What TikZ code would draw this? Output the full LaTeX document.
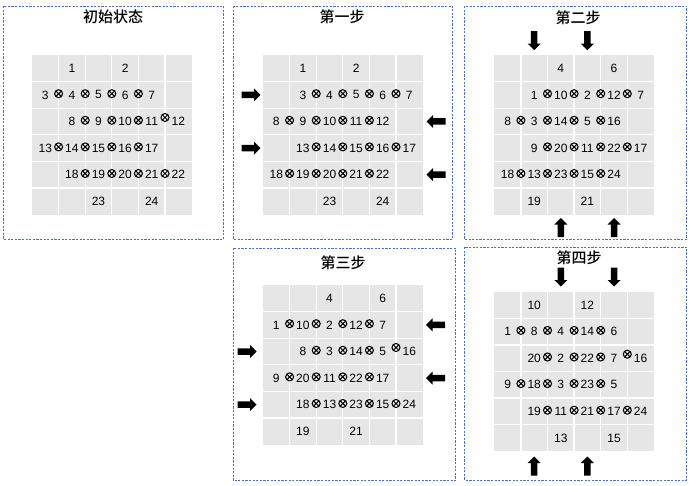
\documentclass[tikz,border=0pt]{standalone}
\usepackage{fontspec}
\setmainfont{Liberation Sans}
\newfontfamily\cjk{Noto Sans CJK SC}[BoldFont={Noto Sans CJK SC Medium}]
\definecolor{cellgray}{RGB}{231,230,230}
\definecolor{boxblue}{RGB}{68,114,196}
\newcommand\cellsz{26.6}
\newcommand\gridat{%
  \fill[cellgray] (0,0) rectangle (159.6,159.6);
  \foreach \k in {1,...,5} {
    \draw[white, line width=1.3pt] ({\k*\cellsz},0) -- ({\k*\cellsz},159.6);
    \draw[white, line width=1.3pt] (0,{\k*\cellsz}) -- (159.6,{\k*\cellsz});
  }}
\newcommand\chain[5]{%
  \foreach \v [count=\i from 0] in {#4} {
    \node[num] (#1r#2n\i) at ({(#3+\i+0.5)*\cellsz},{(#2+0.5)*\cellsz}) {\v};
    \ifnum\i>0
      \ifnum\i=#5 \def\dyy{-4}\else\def\dyy{-1.2}\fi
      \node[ox] (#1r#2x\i) at ({(#3+\i)*\cellsz},{(#2+0.5)*\cellsz+\dyy}) {};
    \fi
  }}
\newcommand\single[4]{% prefix, row, col, text
  \node[num] (#1s#2c#3) at ({(#3+0.5)*\cellsz},{(#2+0.5)*\cellsz}) {#4};}
\tikzset{
  panel/.style={draw=boxblue, line width=0.9pt, dash pattern=on 2.2pt off 1.4pt},
  num/.style={font=\fontsize{12}{12}\selectfont, inner sep=0pt},
  ox/.style={circle, draw, line width=1.05pt, minimum size=8pt, inner sep=0pt,
    path picture={\draw[line width=1.05pt] (path picture bounding box.north west) -- (path picture bounding box.south east)
      (path picture bounding box.north east) -- (path picture bounding box.south west);}},
  ttl/.style={font=\cjk\bfseries\fontsize{15}{16}\selectfont, inner sep=0pt},
  arrR/.pic={\fill (-9.5,-3.25) -- (3,-3.25) -- (3,-6.5) -- (9.5,0) -- (3,6.5) -- (3,3.25) -- (-9.5,3.25) -- cycle;},
  arrL/.pic={\fill (9.5,-3.25) -- (-3,-3.25) -- (-3,-6.5) -- (-9.5,0) -- (-3,6.5) -- (-3,3.25) -- (9.5,3.25) -- cycle;},
  arrD/.pic={\fill (-3.25,-9.5) -- (-3.25,3) -- (-6.5,3) -- (0,9.5) -- (6.5,3) -- (3.25,3) -- (3.25,-9.5) -- cycle;},
  arrU/.pic={\fill (-3.25,9.5) -- (-3.25,-3) -- (-6.5,-3) -- (0,-9.5) -- (6.5,-3) -- (3.25,-3) -- (3.25,9.5) -- cycle;},
}
\begin{document}
\begin{tikzpicture}[x=1pt,y=-1pt]
\useasboundingbox (0,0) rectangle (692,486);
% panel boxes
\draw[panel] (3,6) rectangle (223.5,239);
\draw[panel] (233,6) rectangle (452.7,239);
\draw[panel] (464,6) rectangle (686.7,239);
\draw[panel] (233.3,248) rectangle (455.7,480.7);
\draw[panel] (464.7,247) rectangle (686.7,480);
% titles
\node[ttl] (t1) at (113,17) {初始状态};
\node[ttl] (t2) at (342,17) {第一步};
\node[ttl] (t3) at (578,18) {第二步};
\node[ttl] (t4) at (343,263) {第三步};
\node[ttl] (t5) at (579,258) {第四步};
% panel 1
\begin{scope}[shift={(32,55)}]
  \gridat
  \single{A}{0}{1}{1} \single{A}{0}{3}{2}
  \chain{A}{1}{0}{3,4,5,6,7}{9}
  \chain{A}{2}{1}{8,9,10,11,12}{4}
  \chain{A}{3}{0}{13,14,15,16,17}{9}
  \chain{A}{4}{1}{18,19,20,21,22}{9}
  \single{A}{5}{2}{23} \single{A}{5}{4}{24}
\end{scope}
% panel 2
\begin{scope}[shift={(263,55)}]
  \gridat
  \single{B}{0}{1}{1} \single{B}{0}{3}{2}
  \chain{B}{1}{1}{3,4,5,6,7}{9}
  \chain{B}{2}{0}{8,9,10,11,12}{9}
  \chain{B}{3}{1}{13,14,15,16,17}{9}
  \chain{B}{4}{0}{18,19,20,21,22}{9}
  \single{B}{5}{2}{23} \single{B}{5}{4}{24}
  \pic at (-12,39.9) {arrR};
  \pic at (-12,93.1) {arrR};
  \pic at (173,66.5) {arrL};
  \pic at (173,119.7) {arrL};
\end{scope}
% panel 3
\begin{scope}[shift={(494.3,55)}]
  \gridat
  \single{C}{0}{2}{4} \single{C}{0}{4}{6}
  \chain{C}{1}{1}{1,10,2,12,7}{9}
  \chain{C}{2}{0}{8,3,14,5,16}{9}
  \chain{C}{3}{1}{9,20,11,22,17}{9}
  \chain{C}{4}{0}{18,13,23,15,24}{9}
  \single{C}{5}{1}{19} \single{C}{5}{3}{21}
  \pic at (39.9,-14.3) {arrD};
  \pic at (93.1,-14.3) {arrD};
  \pic at (66.5,172.5) {arrU};
  \pic at (119.7,172.5) {arrU};
\end{scope}
% panel 4
\begin{scope}[shift={(263,285)}]
  \gridat
  \single{D}{0}{2}{4} \single{D}{0}{4}{6}
  \chain{D}{1}{0}{1,10,2,12,7}{9}
  \chain{D}{2}{1}{8,3,14,5,16}{4}
  \chain{D}{3}{0}{9,20,11,22,17}{9}
  \chain{D}{4}{1}{18,13,23,15,24}{9}
  \single{D}{5}{1}{19} \single{D}{5}{3}{21}
  \pic at (172.5,39.9) {arrL};
  \pic at (172.5,93.1) {arrL};
  \pic at (-16,66.5) {arrR};
  \pic at (-16,119.7) {arrR};
\end{scope}
% panel 5
\begin{scope}[shift={(494.3,291.7)}]
  \gridat
  \single{E}{0}{1}{10} \single{E}{0}{3}{12}
  \chain{E}{1}{0}{1,8,4,14,6}{9}
  \chain{E}{2}{1}{20,2,22,7,16}{4}
  \chain{E}{3}{0}{9,18,3,23,5}{9}
  \chain{E}{4}{1}{19,11,21,17,24}{9}
  \single{E}{5}{2}{13} \single{E}{5}{4}{15}
  \pic at (66.5,-14.7) {arrD};
  \pic at (119.7,-14.7) {arrD};
  \pic at (39.9,174.3) {arrU};
  \pic at (93.1,174.3) {arrU};
\end{scope}
\end{tikzpicture}
\end{document}
